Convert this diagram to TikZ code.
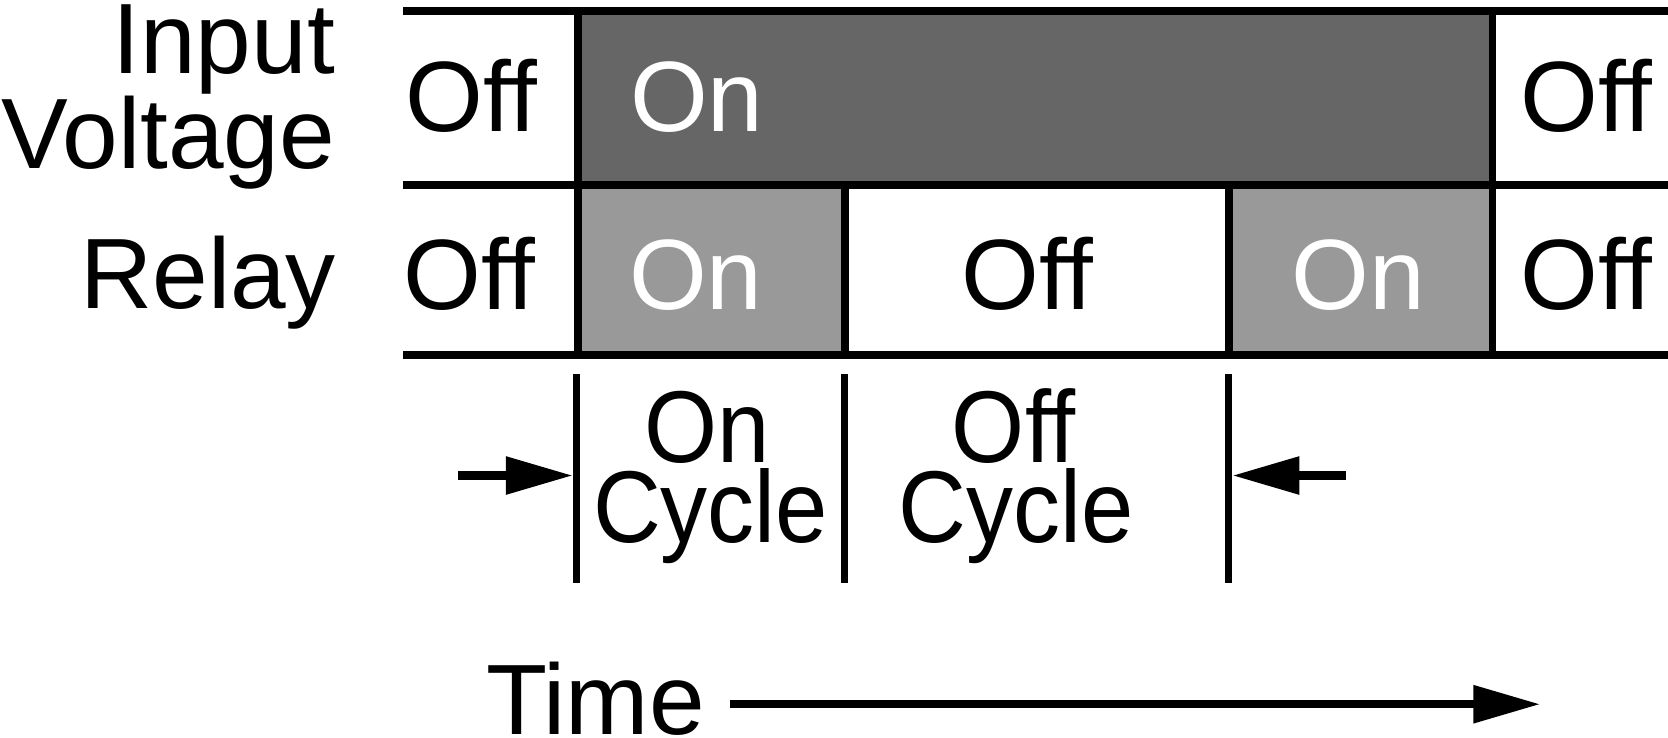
\documentclass[tikz,border=0pt]{standalone}
\usepackage{fontspec}
\setmainfont{Liberation Sans}
\usetikzlibrary{arrows.meta}
\definecolor{darkon}{RGB}{102,102,102}
\definecolor{lighton}{RGB}{153,153,153}
\begin{document}
\begin{tikzpicture}[x=1pt,y=-1pt,
  grid/.style={line width=7.5pt},
  tick/.style={line width=7pt},
  arr/.style={line width=8pt,-{Triangle[length=63pt,width=34pt]}},
  big/.style={inner sep=0pt,font=\fontsize{94}{94}\selectfont},
  cyc/.style={inner sep=0pt,font=\fontsize{96}{96}\selectfont,xscale=0.92}]
\useasboundingbox (0,0) rectangle (1568,693);
% fills
\fill[darkon] (543,10) rectangle (1403,174);
\fill[lighton] (543,174) rectangle (794,334);
\fill[lighton] (1155,174) rectangle (1403,334);
% grid lines
\draw[grid] (379,10) -- (1568,10);
\draw[grid] (379,174) -- (1568,174);
\draw[grid] (379,334) -- (1568,334);
\draw[grid] (543,10) -- (543,334);
\draw[grid] (1403,10) -- (1403,334);
\draw[grid] (794,174) -- (794,334);
\draw[grid] (1155,174) -- (1155,334);
% row labels
\node[big,anchor=base east] (in1) at (315,69) {Input};
\node[big,anchor=base east] (in2) at (315,158) {Voltage};
\node[big,anchor=base east] (rel) at (316,290) {Relay};
% row 1 states
\node[big,anchor=base] (v1) at (443,124) {Off};
\node[big,anchor=base,text=white] (v2) at (655,124) {On};
\node[big,anchor=base] (v3) at (1491,124) {Off};
% row 2 states
\node[big,anchor=base] (r1) at (441,291) {Off};
\node[big,anchor=base,text=white] (r2) at (654,291) {On};
\node[big,anchor=base] (r3) at (966,291) {Off};
\node[big,anchor=base,text=white] (r4) at (1277,291) {On};
\node[big,anchor=base] (r5) at (1491,291) {Off};
% cycle ticks
\coordinate (t1a) at (542,352); \coordinate (t1b) at (542,548);
\coordinate (t2a) at (794,352); \coordinate (t2b) at (794,548);
\coordinate (t3a) at (1155,352); \coordinate (t3b) at (1155,548);
\draw[tick] (t1a) -- (t1b);
\draw[tick] (t2a) -- (t2b);
\draw[tick] (t3a) -- (t3b);
% cycle labels
\node[cyc,anchor=base] (c1) at (665,435) {On};
\node[cyc,anchor=base] (c2) at (668,510) {Cycle};
\node[cyc,anchor=base] (c3) at (953,435) {Off};
\node[cyc,anchor=base] (c4) at (955,510) {Cycle};
% cycle arrows
\coordinate (a1s) at (431,447); \coordinate (a1e) at (538.5,447);
\coordinate (a2s) at (1265,447); \coordinate (a2e) at (1158.5,447);
\draw[arr] (a1s) -- (a1e);
\draw[arr] (a2s) -- (a2e);
% time
\node[big,anchor=base west] (time) at (457,690) {Time};
\coordinate (ts) at (686,662); \coordinate (te) at (1448,662);
\draw[arr] (ts) -- (te);
\end{tikzpicture}
\end{document}
